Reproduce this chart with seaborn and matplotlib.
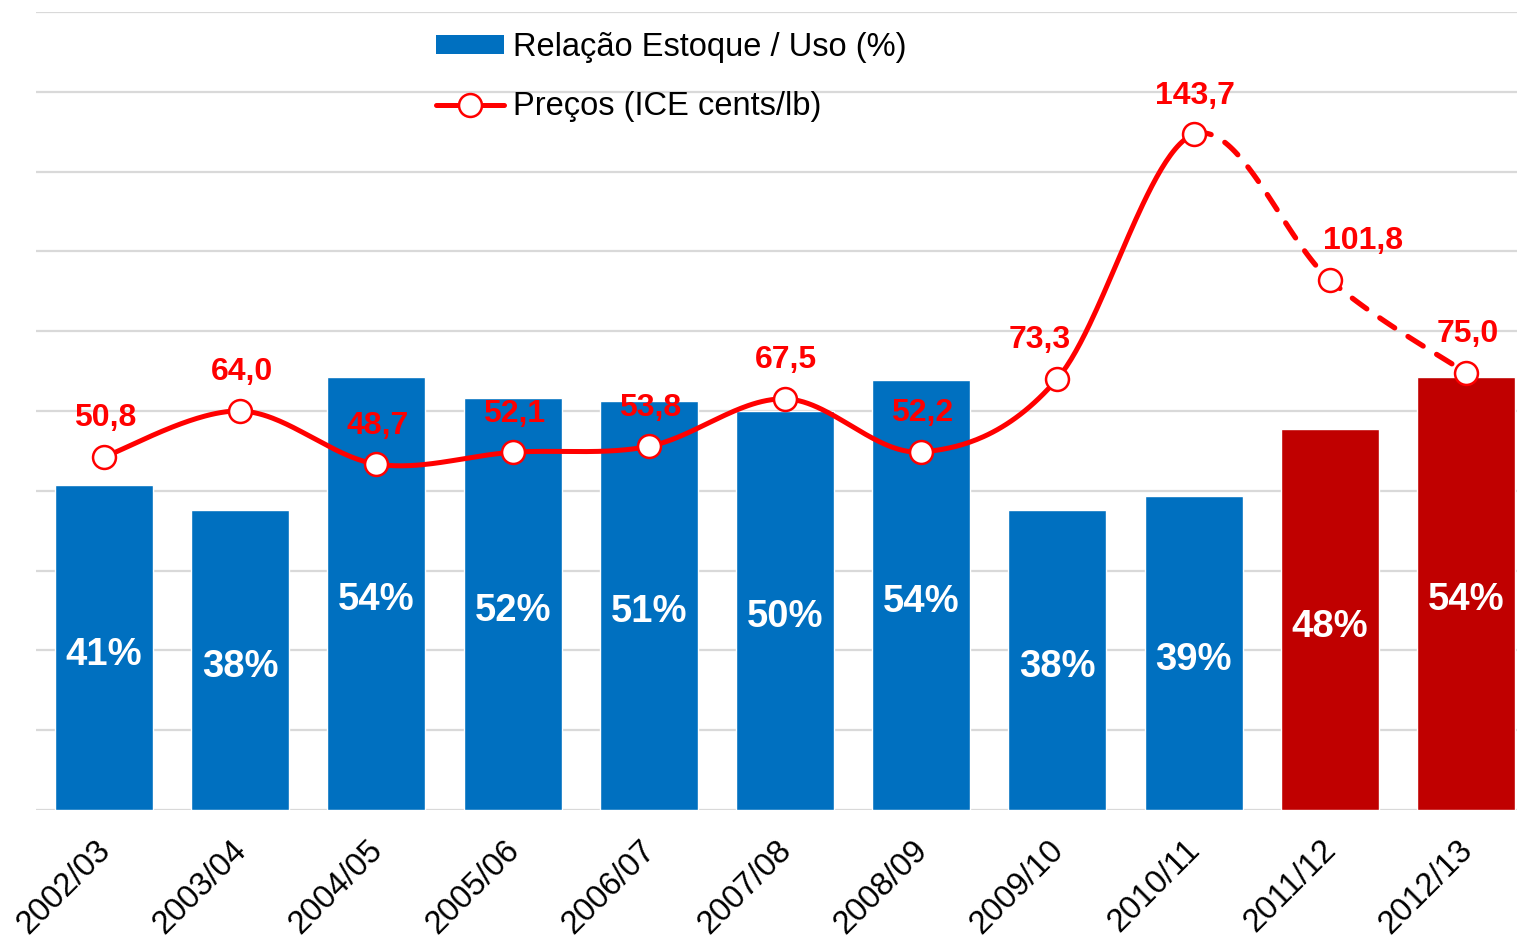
import numpy as np
import matplotlib
matplotlib.use("Agg")
import matplotlib.pyplot as plt
import seaborn as sns
import pandas as pd
from matplotlib.patches import Patch
from matplotlib.lines import Line2D
from matplotlib.transforms import ScaledTranslation

# ---- data ----
seasons = ["2002/03", "2003/04", "2004/05", "2005/06", "2006/07", "2007/08",
           "2008/09", "2009/10", "2010/11", "2011/12", "2012/13"]
stock_use = [40.7, 37.6, 54.3, 51.6, 51.3, 50.0, 53.9, 37.6, 39.4, 47.7, 54.3]
prices = [50.8, 64.0, 48.7, 52.1, 53.8, 67.5, 52.2, 73.3, 143.7, 101.8, 75.0]
projected = [False, False, False, False, False, False, False, False, False, True, True]

# horizontal nudges (points) of the price labels, as placed in the original
price_label_dx = [1, 1, 1, 1, 1, 1, 1, -13, 1, 24, 1]

BLUE = "#0070C0"
DARKRED = "#C00000"
RED = "#FF0000"

sns.set_theme(style="white")
plt.rcParams["font.family"] = ["Liberation Sans", "DejaVu Sans"]
plt.rcParams["text.color"] = "black"

fig = plt.figure(figsize=(15.17, 9.44), dpi=100)
W, H = 1517, 944
ax = fig.add_axes([36 / W, (H - 810) / H, 1498 / W, 798 / H])

df = pd.DataFrame({"season": seasons, "ratio": stock_use})
palette = {s: (DARKRED if p else BLUE) for s, p in zip(seasons, projected)}
sns.barplot(data=df, x="season", y="ratio", hue="season", palette=palette,
            legend=False, width=0.72, saturation=1, ax=ax, zorder=2)

ax.set_ylim(0, 100)
ax.set_xlim(-0.5, len(seasons) - 0.5)
ax.set_yticks(np.arange(0, 101, 10))
ax.yaxis.grid(True, color="#D9D9D9", linewidth=1.6)
ax.set_axisbelow(True)
ax.set_yticklabels([])
ax.tick_params(axis="y", length=0)
ax.tick_params(axis="x", length=0, pad=4)
ax.set_xlabel("")
ax.set_ylabel("")
for sp in ax.spines.values():
    sp.set_visible(False)
ax.set_xticks(range(len(seasons)))
ax.set_xticklabels(seasons, rotation=45, ha="right", va="top",
                   rotation_mode="anchor", fontsize=23.5, color="black")
for lbl in ax.get_xticklabels():
    lbl.set_transform(lbl.get_transform() + ScaledTranslation(-6.5 / 72, -13.5 / 72, fig.dpi_scale_trans))

# bar labels
for i, v in enumerate(stock_use):
    ax.annotate(f"{v:.0f}%", (i, v / 2), xytext=(0, -5), textcoords="offset points",
                ha="center", va="center", color="white",
                fontsize=27.5, fontweight="bold", zorder=3)

# ---- price line on secondary axis ----
ax2 = ax.twinx()
ax2.set_ylim(-51, 179)
ax2.set_yticks([])
for sp in ax2.spines.values():
    sp.set_visible(False)

xs = np.arange(len(prices), dtype=float)
ys = np.array(prices, dtype=float)


def smooth_segment(i, n=60):
    p = np.column_stack([xs, ys])
    p0 = p[max(i - 1, 0)]
    p1 = p[i]
    p2 = p[i + 1]
    p3 = p[min(i + 2, len(p) - 1)]
    c1 = p1 + (p2 - p0) / 6.0
    c2 = p2 - (p3 - p1) / 6.0
    t = np.linspace(0, 1, n)[:, None]
    pts = ((1 - t) ** 3) * p1 + 3 * ((1 - t) ** 2) * t * c1 + 3 * (1 - t) * t ** 2 * c2 + t ** 3 * p2
    return pts


first_proj = projected.index(True)
solid = np.vstack([smooth_segment(i) for i in range(0, first_proj - 1)])
dashed = np.vstack([smooth_segment(i) for i in range(first_proj - 1, len(prices) - 1)])
ax2.plot(solid[:, 0], solid[:, 1], color=RED, linewidth=3.6,
         solid_capstyle="round", zorder=3)
ax2.plot(dashed[:, 0], dashed[:, 1], color=RED, linewidth=3.8,
         linestyle=(0, (3.4, 3.0)), dash_capstyle="round", zorder=3)
ax2.plot(xs, ys, linestyle="none", marker="o", markersize=16.5,
         markerfacecolor="white", markeredgecolor=RED, markeredgewidth=1.8, zorder=4)

for i, v in enumerate(prices):
    ax2.annotate(f"{v:.1f}".replace(".", ","), (i, v), xytext=(price_label_dx[i], 22),
                 textcoords="offset points", ha="center", va="baseline",
                 color=RED, fontsize=23, fontweight="bold", zorder=5)

# ---- legend ----
handles = [
    Patch(facecolor=BLUE, edgecolor="none", label="Relação Estoque / Uso (%)"),
    Line2D([0], [0], color=RED, linewidth=3.6, marker="o", markersize=16.5,
           markerfacecolor="white", markeredgecolor=RED, markeredgewidth=1.8,
           label="Preços (ICE cents/lb)"),
]
leg = fig.legend(handles=handles, loc="upper left", bbox_to_anchor=(436 / W, 1 - 32 / H),
                 bbox_transform=fig.transFigure, frameon=False, fontsize=23.5,
                 handlelength=2.08, handleheight=0.55, handletextpad=0.28,
                 labelspacing=0.87, borderpad=0, borderaxespad=0)
for t in leg.get_texts():
    t.set_color("black")

fig.savefig("out.png", dpi=100)
